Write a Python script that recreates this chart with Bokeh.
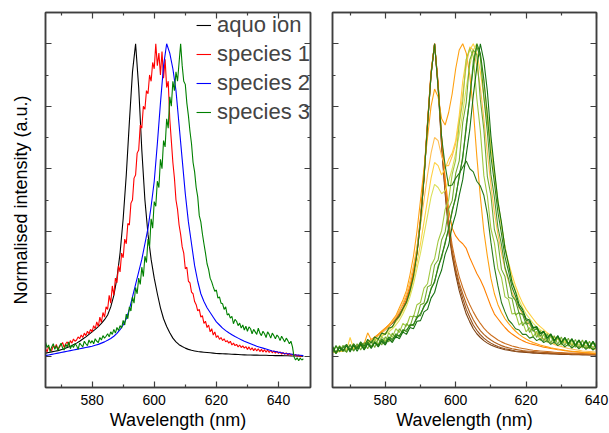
import numpy as np
from bokeh.plotting import figure
from bokeh.models import Range1d, LinearAxis, FixedTicker, Legend, LegendItem, CustomLabelingPolicy
from bokeh.layouts import row
from bokeh.embed import file_html
from bokeh.resources import INLINE

FONT = "Liberation Sans"
FRAME = "#3f3f3f"

# ---------------- tick values ----------------
MAJOR_X = [580, 600, 620, 640]
MINOR_X = [570, 590, 610, 630]
MAJOR_Y = [0.0, 0.2, 0.4, 0.6, 0.8, 1.0]
MINOR_Y = [0.1, 0.3, 0.5, 0.7, 0.9]

# ---------------- left panel data ----------------
LEFT_LABELS = ["aquo ion", "species 1", "species 2", "species 3"]

# 1 nm grid from 565 nm
AQUO = [0.010, 0.012, 0.014, 0.016, 0.018, 0.021, 0.024, 0.028, 0.032, 0.037,
        0.042, 0.048, 0.055, 0.062, 0.070, 0.078, 0.086, 0.095, 0.105, 0.117,
        0.132, 0.158, 0.195, 0.250, 0.330, 0.440, 0.580, 0.750, 0.910, 1.000,
        0.860, 0.660, 0.500, 0.390, 0.310, 0.250, 0.200, 0.155, 0.120, 0.095,
        0.075, 0.058, 0.046, 0.037, 0.031, 0.026, 0.022, 0.019, 0.017, 0.015,
        0.014, 0.013, 0.012, 0.011, 0.010, 0.009, 0.0085, 0.008, 0.0075, 0.007,
        0.0065, 0.006, 0.0055, 0.005, 0.0045, 0.004, 0.004, 0.0035, 0.0035, 0.003,
        0.003, 0.003, 0.0025, 0.0025, 0.002, 0.002, 0.002, 0.0015, 0.0015, 0.001,
        0.001, 0.001, 0.0005, 0.0]

SPECIES2 = [0.002, 0.004, 0.006, 0.008, 0.010, 0.012, 0.014, 0.016, 0.018, 0.020,
            0.022, 0.024, 0.026, 0.028, 0.030, 0.032, 0.035, 0.038, 0.042, 0.046,
            0.051, 0.057, 0.064, 0.073, 0.085, 0.100, 0.120, 0.150, 0.190, 0.230,
            0.270, 0.310, 0.360, 0.410, 0.480, 0.560, 0.680, 0.810, 0.930, 1.000,
            0.970, 0.920, 0.850, 0.740, 0.630, 0.520, 0.430, 0.360, 0.290, 0.240,
            0.200, 0.175, 0.155, 0.140, 0.125, 0.110, 0.100, 0.090, 0.082, 0.075,
            0.069, 0.063, 0.058, 0.053, 0.048, 0.044, 0.040, 0.036, 0.032, 0.029,
            0.026, 0.023, 0.020, 0.017, 0.015, 0.013, 0.011, 0.009, 0.008, 0.007,
            0.005, 0.004, 0.003, 0.002]

# 0.5 nm grid from 565 nm
SPECIES1 = [0.025, 0.014, 0.030, 0.022, 0.018, 0.034, 0.026, 0.038, 0.022, 0.030,
            0.036, 0.044, 0.028, 0.040, 0.046, 0.034, 0.050, 0.042, 0.055, 0.048,
            0.052, 0.062, 0.056, 0.068, 0.060, 0.074, 0.066, 0.080, 0.072, 0.086,
            0.078, 0.098, 0.088, 0.110, 0.095, 0.125, 0.108, 0.140, 0.125, 0.158,
            0.150, 0.195, 0.170, 0.225, 0.195, 0.250, 0.235, 0.290, 0.270, 0.330,
            0.315, 0.375, 0.360, 0.425, 0.420, 0.490, 0.500, 0.570, 0.580, 0.650,
            0.660, 0.740, 0.730, 0.800, 0.790, 0.850, 0.840, 0.900, 0.880, 0.940,
            0.920, 1.000, 0.930, 0.970, 0.900, 0.975, 0.890, 0.950, 0.860, 0.880,
            0.760, 0.690, 0.620, 0.570, 0.500, 0.470, 0.420, 0.390, 0.350, 0.330,
            0.280, 0.285, 0.240, 0.235, 0.205, 0.200, 0.175, 0.165, 0.145, 0.150,
            0.125, 0.130, 0.105, 0.112, 0.092, 0.100, 0.078, 0.088, 0.068, 0.078,
            0.060, 0.066, 0.054, 0.060, 0.050, 0.056, 0.046, 0.050, 0.042, 0.048,
            0.036, 0.042, 0.034, 0.038, 0.030, 0.036, 0.028, 0.033, 0.026, 0.031,
            0.022, 0.030, 0.020, 0.027, 0.018, 0.025, 0.017, 0.024, 0.015, 0.022,
            0.014, 0.021, 0.013, 0.020, 0.012, 0.019, 0.011, 0.017, 0.010, 0.016,
            0.009, 0.014, 0.007, 0.012, 0.006, 0.011, 0.004, 0.009, 0.003, 0.007,
            0.002, 0.006, 0.000, 0.004, -0.002, 0.003]

SPECIES3 = [0.045, 0.028, 0.036, 0.015, 0.030, 0.040, 0.022, 0.034, 0.018, 0.032,
            0.042, 0.026, 0.020, 0.038, 0.030, 0.046, 0.024, 0.036, 0.028, 0.040,
            0.034, 0.022, 0.042, 0.036, 0.030, 0.048, 0.040, 0.034, 0.052, 0.042,
            0.050, 0.040, 0.056, 0.048, 0.044, 0.060, 0.052, 0.066, 0.058, 0.064,
            0.072, 0.062, 0.078, 0.070, 0.086, 0.074, 0.092, 0.082, 0.098, 0.090,
            0.115, 0.100, 0.135, 0.120, 0.158, 0.145, 0.190, 0.170, 0.220, 0.200,
            0.250, 0.230, 0.285, 0.255, 0.320, 0.300, 0.375, 0.350, 0.440, 0.410,
            0.495, 0.480, 0.560, 0.540, 0.630, 0.600, 0.690, 0.670, 0.760, 0.730,
            0.830, 0.800, 0.880, 0.850, 0.910, 0.880, 0.940, 1.000, 0.930, 0.880,
            0.870, 0.810, 0.770, 0.720, 0.680, 0.620, 0.590, 0.540, 0.510, 0.450,
            0.430, 0.392, 0.360, 0.330, 0.296, 0.278, 0.250, 0.238, 0.222, 0.208,
            0.212, 0.186, 0.190, 0.170, 0.168, 0.150, 0.158, 0.132, 0.136, 0.122,
            0.128, 0.104, 0.118, 0.112, 0.098, 0.106, 0.090, 0.100, 0.084, 0.096,
            0.080, 0.094, 0.088, 0.072, 0.086, 0.078, 0.070, 0.090, 0.074, 0.066,
            0.080, 0.072, 0.060, 0.078, 0.070, 0.058, 0.074, 0.066, 0.056, 0.068,
            0.062, 0.050, 0.064, 0.055, 0.046, 0.058, 0.050, 0.040, 0.048, 0.030,
            -0.002, -0.012, -0.005, -0.014, -0.006, -0.012, -0.008]

# ---------------- right panel data (1 nm grid from 565 nm) ----------------
R_B1 = [0.012, 0.014, 0.016, 0.018, 0.020, 0.023, 0.026, 0.030, 0.034, 0.039,
        0.045, 0.051, 0.058, 0.066, 0.075, 0.085, 0.095, 0.106, 0.118, 0.132,
        0.150, 0.175, 0.210, 0.260, 0.330, 0.430, 0.570, 0.740, 0.900, 1.000,
        0.860, 0.670, 0.520, 0.400, 0.320, 0.260, 0.210, 0.170, 0.135, 0.110,
        0.088, 0.072, 0.060, 0.050, 0.042, 0.036, 0.031, 0.027, 0.024, 0.021,
        0.019, 0.017, 0.015, 0.014, 0.013, 0.012, 0.011, 0.010, 0.0095, 0.009,
        0.0085, 0.008, 0.0075, 0.007, 0.0065, 0.006, 0.0058, 0.0055, 0.0052, 0.005,
        0.0048, 0.0045, 0.0042, 0.004, 0.0038, 0.0035]
R_B2 = [0.013, 0.015, 0.017, 0.019, 0.021, 0.024, 0.027, 0.031, 0.035, 0.040,
        0.046, 0.052, 0.059, 0.067, 0.076, 0.086, 0.096, 0.107, 0.119, 0.133,
        0.151, 0.176, 0.212, 0.262, 0.332, 0.432, 0.572, 0.742, 0.902, 1.000,
        0.865, 0.680, 0.530, 0.410, 0.330, 0.270, 0.225, 0.185, 0.150, 0.124,
        0.100, 0.083, 0.069, 0.058, 0.049, 0.042, 0.036, 0.031, 0.027, 0.024,
        0.022, 0.019, 0.017, 0.016, 0.015, 0.014, 0.013, 0.012, 0.011, 0.0105,
        0.010, 0.0095, 0.009, 0.0085, 0.008, 0.0075, 0.007, 0.0068, 0.0065, 0.0062,
        0.006, 0.0058, 0.0055, 0.0052, 0.005, 0.0048]
R_B3 = [0.013, 0.015, 0.017, 0.019, 0.021, 0.024, 0.027, 0.031, 0.035, 0.040,
        0.046, 0.052, 0.059, 0.067, 0.076, 0.086, 0.097, 0.108, 0.120, 0.135,
        0.153, 0.178, 0.214, 0.265, 0.335, 0.435, 0.575, 0.745, 0.905, 1.000,
        0.870, 0.690, 0.540, 0.420, 0.340, 0.280, 0.235, 0.200, 0.168, 0.140,
        0.117, 0.098, 0.082, 0.070, 0.060, 0.052, 0.045, 0.039, 0.034, 0.030,
        0.027, 0.024, 0.022, 0.020, 0.018, 0.017, 0.016, 0.015, 0.014, 0.013,
        0.012, 0.0115, 0.011, 0.0105, 0.010, 0.0095, 0.009, 0.0085, 0.008, 0.0077,
        0.0074, 0.007, 0.0067, 0.0064, 0.006, 0.0058]
R_B4 = [0.014, 0.016, 0.018, 0.020, 0.022, 0.025, 0.028, 0.032, 0.036, 0.041,
        0.047, 0.053, 0.060, 0.068, 0.077, 0.087, 0.098, 0.110, 0.122, 0.137,
        0.155, 0.180, 0.216, 0.268, 0.338, 0.438, 0.578, 0.748, 0.908, 1.000,
        0.875, 0.700, 0.555, 0.435, 0.355, 0.300, 0.255, 0.220, 0.190, 0.165,
        0.142, 0.122, 0.105, 0.090, 0.078, 0.068, 0.060, 0.052, 0.046, 0.041,
        0.037, 0.033, 0.030, 0.027, 0.025, 0.023, 0.021, 0.019, 0.018, 0.017,
        0.016, 0.015, 0.014, 0.013, 0.012, 0.0115, 0.011, 0.0105, 0.010, 0.0095,
        0.009, 0.0085, 0.008, 0.0075, 0.007, 0.0065]
R_OS = [0.013, 0.015, 0.017, 0.019, 0.021, 0.024, 0.027, 0.031, 0.035, 0.040,
        0.046, 0.053, 0.061, 0.070, 0.080, 0.090, 0.100, 0.112, 0.126, 0.145,
        0.165, 0.190, 0.225, 0.275, 0.345, 0.445, 0.585, 0.750, 0.910, 1.000,
        0.870, 0.700, 0.570, 0.470, 0.410, 0.385, 0.370, 0.360, 0.345, 0.315,
        0.290, 0.265, 0.245, 0.220, 0.190, 0.160, 0.135, 0.120, 0.105, 0.092,
        0.080, 0.071, 0.063, 0.056, 0.050, 0.045, 0.041, 0.038, 0.035, 0.032,
        0.029, 0.027, 0.025, 0.023, 0.021, 0.020, 0.018, 0.017, 0.015, 0.014,
        0.013, 0.012, 0.011, 0.010, 0.009, 0.008]
R_OD1 = [0.012, 0.014, 0.016, 0.018, 0.020, 0.023, 0.026, 0.030, 0.035, 0.040,
         0.075, 0.053, 0.061, 0.070, 0.080, 0.090, 0.100, 0.115, 0.130, 0.155,
         0.180, 0.210, 0.260, 0.320, 0.400, 0.500, 0.600, 0.700, 0.800, 0.855,
         0.830, 0.760, 0.740, 0.780, 0.840, 0.920, 0.980, 1.000, 0.970, 0.900,
         0.790, 0.640, 0.510, 0.400, 0.320, 0.250, 0.200, 0.165, 0.140, 0.120,
         0.105, 0.092, 0.080, 0.070, 0.062, 0.055, 0.049, 0.044, 0.040, 0.036,
         0.033, 0.030, 0.027, 0.025, 0.023, 0.021, 0.019, 0.017, 0.016, 0.015,
         0.014, 0.013, 0.012, 0.011, 0.010, 0.009]
R_OD2 = [0.012, 0.014, 0.016, 0.018, 0.020, 0.023, 0.026, 0.030, 0.034, 0.039,
         0.045, 0.051, 0.058, 0.066, 0.075, 0.085, 0.095, 0.110, 0.125, 0.145,
         0.170, 0.200, 0.240, 0.290, 0.350, 0.420, 0.500, 0.580, 0.650, 0.700,
         0.690, 0.640, 0.610, 0.610, 0.640, 0.680, 0.750, 0.840, 0.930, 0.990,
         0.980, 0.930, 0.860, 0.760, 0.650, 0.550, 0.460, 0.390, 0.330, 0.280,
         0.240, 0.205, 0.180, 0.155, 0.135, 0.115, 0.100, 0.085, 0.072, 0.063,
         0.055, 0.048, 0.043, 0.038, 0.034, 0.031, 0.028, 0.025, 0.023, 0.021,
         0.019, 0.017, 0.016, 0.015, 0.014, 0.013]
R_Y1 = [0.012, 0.013, 0.015, 0.017, 0.019, 0.060, 0.024, 0.027, 0.031, 0.035,
        0.040, 0.045, 0.051, 0.058, 0.066, 0.075, 0.085, 0.095, 0.110, 0.125,
        0.145, 0.170, 0.200, 0.245, 0.300, 0.360, 0.430, 0.500, 0.570, 0.620,
        0.610, 0.580, 0.600, 0.630, 0.650, 0.690, 0.770, 0.880, 0.950, 0.980,
        1.000, 0.970, 0.910, 0.830, 0.750, 0.670, 0.580, 0.490, 0.420, 0.350,
        0.300, 0.260, 0.225, 0.195, 0.170, 0.150, 0.135, 0.120, 0.105, 0.095,
        0.085, 0.075, 0.067, 0.060, 0.054, 0.049, 0.045, 0.041, 0.038, 0.035,
        0.032, 0.030, 0.028, 0.026, 0.024, 0.022]
R_Y2 = [0.015, 0.016, 0.018, 0.020, 0.022, 0.024, 0.027, 0.030, 0.034, 0.038,
        0.043, 0.048, 0.054, 0.060, 0.065, 0.070, 0.078, 0.088, 0.100, 0.115,
        0.135, 0.160, 0.190, 0.230, 0.280, 0.330, 0.390, 0.450, 0.510, 0.550,
        0.540, 0.520, 0.530, 0.560, 0.600, 0.650, 0.710, 0.780, 0.860, 0.930,
        0.980, 1.000, 0.960, 0.880, 0.780, 0.680, 0.590, 0.500, 0.420, 0.350,
        0.290, 0.245, 0.210, 0.180, 0.155, 0.135, 0.120, 0.105, 0.094, 0.085,
        0.077, 0.070, 0.064, 0.059, 0.055, 0.051, 0.048, 0.045, 0.042, 0.040,
        0.038, 0.036, 0.034, 0.032, 0.031, 0.030]
R_G1 = [0.030, 0.012, 0.034, 0.015, 0.036, 0.018, 0.040, 0.022, 0.045, 0.026,
        0.048, 0.030, 0.055, 0.038, 0.064, 0.047, 0.075, 0.060, 0.088, 0.076,
        0.105, 0.096, 0.128, 0.126, 0.165, 0.172, 0.218, 0.232, 0.290, 0.312,
        0.368, 0.402, 0.470, 0.500, 0.582, 0.628, 0.745, 0.815, 0.950, 0.985,
        0.960, 0.825, 0.722, 0.578, 0.512, 0.408, 0.362, 0.280, 0.252, 0.190,
        0.182, 0.135, 0.138, 0.100, 0.110, 0.078, 0.092, 0.062, 0.080, 0.050,
        0.070, 0.044, 0.064, 0.040, 0.060, 0.035, 0.056, 0.032, 0.052, 0.028,
        0.050, 0.026, 0.046, 0.024, 0.044, 0.022]
R_G2 = [0.010, 0.032, 0.014, 0.035, 0.012, 0.038, 0.016, 0.040, 0.020, 0.044,
        0.024, 0.050, 0.028, 0.056, 0.036, 0.062, 0.046, 0.074, 0.058, 0.088,
        0.074, 0.104, 0.094, 0.130, 0.124, 0.165, 0.170, 0.222, 0.228, 0.292,
        0.308, 0.372, 0.398, 0.472, 0.498, 0.585, 0.625, 0.748, 0.812, 0.948,
        0.980, 0.965, 0.822, 0.725, 0.575, 0.515, 0.405, 0.365, 0.278, 0.255,
        0.188, 0.185, 0.132, 0.140, 0.098, 0.112, 0.076, 0.094, 0.060, 0.082,
        0.048, 0.072, 0.042, 0.066, 0.038, 0.062, 0.034, 0.058, 0.030, 0.054,
        0.027, 0.052, 0.025, 0.048, 0.022, 0.046]
R_G3 = [0.026, 0.008, 0.030, 0.020, 0.014, 0.036, 0.018, 0.030, 0.040, 0.022,
        0.042, 0.028, 0.048, 0.032, 0.052, 0.040, 0.060, 0.050, 0.072, 0.062,
        0.086, 0.078, 0.102, 0.098, 0.128, 0.130, 0.162, 0.174, 0.218, 0.236,
        0.288, 0.315, 0.366, 0.405, 0.468, 0.505, 0.580, 0.632, 0.742, 0.820,
        0.945, 0.990, 0.958, 0.830, 0.718, 0.582, 0.508, 0.412, 0.358, 0.284,
        0.248, 0.194, 0.178, 0.138, 0.134, 0.102, 0.108, 0.080, 0.090, 0.064,
        0.078, 0.052, 0.068, 0.046, 0.062, 0.040, 0.058, 0.036, 0.054, 0.032,
        0.050, 0.030, 0.048, 0.026, 0.045, 0.024]
R_G4 = [0.012, 0.034, 0.016, 0.028, 0.038, 0.020, 0.034, 0.024, 0.042, 0.026,
        0.046, 0.030, 0.044, 0.036, 0.056, 0.042, 0.062, 0.054, 0.068, 0.066,
        0.082, 0.084, 0.098, 0.102, 0.122, 0.136, 0.158, 0.178, 0.214, 0.240,
        0.282, 0.322, 0.360, 0.412, 0.462, 0.512, 0.572, 0.640, 0.728, 0.832,
        0.925, 1.000, 0.970, 0.885, 0.770, 0.640, 0.555, 0.460, 0.392, 0.318,
        0.272, 0.220, 0.192, 0.158, 0.142, 0.115, 0.112, 0.090, 0.094, 0.072,
        0.080, 0.058, 0.070, 0.050, 0.064, 0.044, 0.060, 0.040, 0.056, 0.034,
        0.052, 0.032, 0.050, 0.028, 0.047, 0.030]
R_G5 = [0.032, 0.010, 0.028, 0.016, 0.034, 0.014, 0.036, 0.016, 0.038, 0.020,
        0.040, 0.025, 0.044, 0.030, 0.048, 0.036, 0.056, 0.044, 0.064, 0.056,
        0.078, 0.070, 0.092, 0.088, 0.112, 0.114, 0.142, 0.150, 0.186, 0.204,
        0.246, 0.276, 0.326, 0.356, 0.416, 0.455, 0.515, 0.565, 0.645, 0.725,
        0.835, 0.925, 1.000, 0.945, 0.848, 0.705, 0.598, 0.495, 0.428, 0.345,
        0.296, 0.236, 0.206, 0.166, 0.150, 0.120, 0.116, 0.092, 0.094, 0.072,
        0.080, 0.058, 0.072, 0.050, 0.066, 0.044, 0.060, 0.040, 0.056, 0.036,
        0.052, 0.032, 0.050, 0.030, 0.048, 0.026]
R_GS = [0.025, 0.010, 0.032, 0.018, 0.036, 0.020, 0.040, 0.026, 0.046, 0.032,
        0.054, 0.042, 0.062, 0.054, 0.074, 0.070, 0.090, 0.094, 0.115, 0.128,
        0.152, 0.172, 0.208, 0.255, 0.330, 0.430, 0.570, 0.740, 0.900, 1.000,
        0.860, 0.700, 0.610, 0.545, 0.548, 0.570, 0.585, 0.605, 0.625, 0.600,
        0.590, 0.560, 0.545, 0.515, 0.455, 0.365, 0.285, 0.225, 0.172, 0.142,
        0.116, 0.104, 0.088, 0.084, 0.070, 0.070, 0.058, 0.062, 0.050, 0.056,
        0.044, 0.050, 0.038, 0.046, 0.034, 0.042, 0.030, 0.038, 0.026, 0.036,
        0.024, 0.034, 0.022, 0.032, 0.020, 0.030]

RIGHT_SERIES = [R_B1, R_B2, R_B3, R_B4, R_OS, R_OD1, R_OD2, R_Y1, R_Y2,
                R_G1, R_G2, R_G3, R_G4, R_G5, R_GS]
RIGHT_COLORS = ["#7B3F10", "#96501A", "#B0601C", "#CC7020", "#FF8000", "#FFA010",
                "#FFBE50", "#FFD040", "#DCE05A", "#A0C840", "#72AA30", "#4E9628",
                "#2E8218", "#157010", "#2A7A18"]

START = 565.0


def grid(values, step):
    return START + step * np.arange(len(values))


def style_axis(ax, show_labels, label=None):
    ax.axis_line_color = FRAME
    ax.axis_line_width = 1.5
    ax.major_tick_line_color = FRAME
    ax.minor_tick_line_color = FRAME
    ax.major_tick_line_width = 1.2
    ax.minor_tick_line_width = 1.2
    ax.major_tick_in = 6
    ax.major_tick_out = 0
    ax.minor_tick_in = 3
    ax.minor_tick_out = 0
    if show_labels:
        ax.major_label_text_font = FONT
        ax.major_label_text_font_size = "14px"
        ax.major_label_text_color = "black"
        ax.major_label_standoff = 7
    else:
        ax.major_label_text_font_size = "0px"
        ax.major_label_standoff = 0
        ax.major_label_policy = CustomLabelingPolicy(code="return []")
    if label is not None:
        ax.axis_label = label
        ax.axis_label_text_font = FONT
        ax.axis_label_text_font_size = "18px"
        ax.axis_label_text_font_style = "normal"
        ax.axis_label_text_color = "black"


def make_fig(width, x_end, left_border, right_border, ylabel):
    p = figure(width=width, height=433, x_range=Range1d(565, x_end),
               y_range=Range1d(-0.1, 1.1), output_backend="svg",
               toolbar_location=None, x_axis_location=None, y_axis_location=None,
               min_border_left=left_border, min_border_right=right_border,
               min_border_top=12, min_border_bottom=46)
    p.grid.visible = False
    p.outline_line_color = FRAME
    p.outline_line_width = 1.5
    p.background_fill_color = "white"
    p.border_fill_color = "white"

    xt = FixedTicker(ticks=MAJOR_X, minor_ticks=MINOR_X)
    yt = FixedTicker(ticks=MAJOR_Y, minor_ticks=MINOR_Y)

    bottom = LinearAxis(ticker=xt)
    style_axis(bottom, True, "Wavelength (nm)")
    bottom.axis_label_standoff = 2
    p.add_layout(bottom, "below")

    top = LinearAxis(ticker=xt)
    style_axis(top, False)
    p.add_layout(top, "above")

    left = LinearAxis(ticker=yt)
    style_axis(left, False, ylabel)
    if ylabel:
        left.axis_label_standoff = 15
    p.add_layout(left, "left")

    right = LinearAxis(ticker=yt)
    style_axis(right, False)
    p.add_layout(right, "right")
    return p


# ---------------- left figure ----------------
p1 = make_fig(318, 650.3, 45, 8, "Normalised intensity (a.u.)")
r_aquo = p1.line(grid(AQUO, 1.0), AQUO, line_color="black", line_width=1.1)
r_s1 = p1.line(grid(SPECIES1, 0.5), SPECIES1, line_color="#FF0000", line_width=1.1)
r_s2 = p1.line(grid(SPECIES2, 1.0), SPECIES2, line_color="#0000FF", line_width=1.1)
r_s3 = p1.line(grid(SPECIES3, 0.5), SPECIES3, line_color="#008000", line_width=1.1)

legend = Legend(items=[LegendItem(label=l, renderers=[r]) for l, r in
                       zip(LEFT_LABELS, [r_aquo, r_s1, r_s2, r_s3])],
                location="top_right", label_text_font=FONT,
                label_text_font_size="22px", glyph_width=15, glyph_height=20,
                label_height=20, label_standoff=6, spacing=3, padding=0, margin=0,
                border_line_alpha=0, background_fill_alpha=0)
p1.add_layout(legend)

# ---------------- right figure ----------------
p2 = make_fig(291, 640, 14, 13, None)
for vals, col in zip(RIGHT_SERIES, RIGHT_COLORS):
    p2.line(grid(vals, 1.0), vals, line_color=col, line_width=1.1)

layout = row(p1, p2)
open("out.html", "w").write(file_html(layout, INLINE))
